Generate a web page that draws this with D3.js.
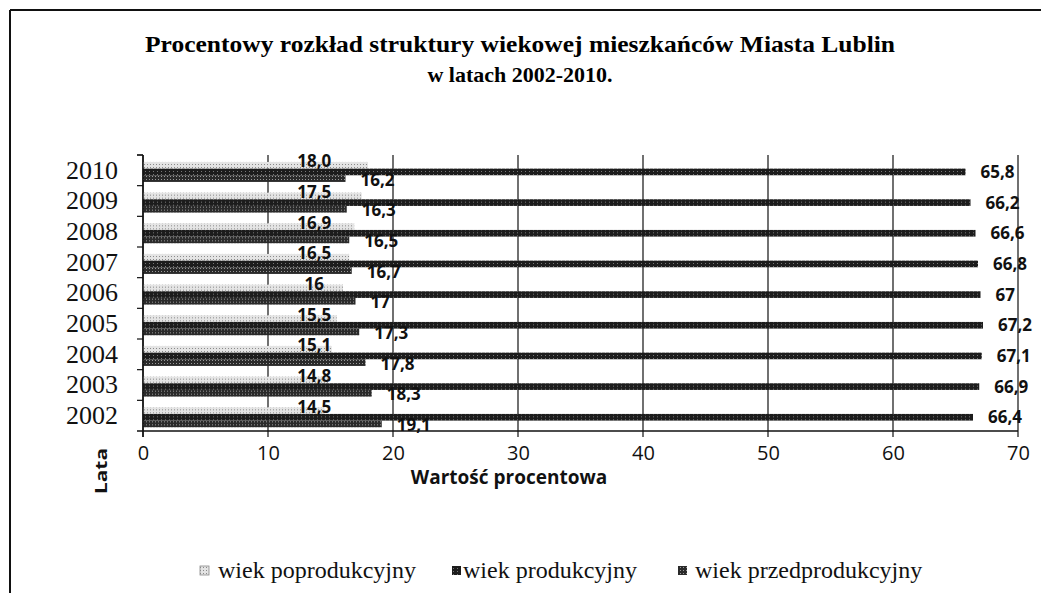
<!DOCTYPE html>
<html>
<head>
<meta charset="utf-8">
<script src="https://cdn.jsdelivr.net/npm/d3@7"></script>
<style>
  body { margin: 0; background: #fff; }
  svg { display: block; }
</style>
</head>
<body>
<svg id="chart"></svg>
<script>
// Data
const years = ["2002", "2003", "2004", "2005", "2006", "2007", "2008", "2009", "2010"];
const seriesNames = ["wiek poprodukcyjny", "wiek produkcyjny", "wiek przedprodukcyjny"];
const poprodukcyjny = [14.5, 14.8, 15.1, 15.5, 16, 16.5, 16.9, 17.5, 18.0];
const produkcyjny = [66.4, 66.9, 67.1, 67.2, 67, 66.8, 66.6, 66.2, 65.8];
const przedprodukcyjny = [19.1, 18.3, 17.8, 17.3, 17, 16.7, 16.5, 16.3, 16.2];
const poprodLabels = ["14,5", "14,8", "15,1", "15,5", "16", "16,5", "16,9", "17,5", "18,0"];
const prodLabels = ["66,4", "66,9", "67,1", "67,2", "67", "66,8", "66,6", "66,2", "65,8"];
const przedLabels = ["19,1", "18,3", "17,8", "17,3", "17", "16,7", "16,5", "16,3", "16,2"];
const xTicks = [0, 10, 20, 30, 40, 50, 60, 70];

const width = 1041;
const height = 593;
const margin = { top: 155, right: 23, bottom: 162, left: 143 };

const svg = d3.select("#chart")
    .attr("width", width)
    .attr("height", height);

// patterns for the bar fills
const defs = svg.append("defs");
const pLight = defs.append("pattern")
    .attr("id", "light").attr("patternUnits", "userSpaceOnUse")
    .attr("width", 3).attr("height", 3);
pLight.append("rect").attr("width", 3).attr("height", 3).attr("fill", "#e4e4e4");
pLight.append("rect").attr("width", 1).attr("height", 1).attr("fill", "#8a8a8a");

const pDark = defs.append("pattern")
    .attr("id", "dark").attr("patternUnits", "userSpaceOnUse")
    .attr("width", 4).attr("height", 3);
pDark.append("rect").attr("width", 4).attr("height", 3).attr("fill", "#1c1c1c");
pDark.append("rect").attr("x", 1).attr("y", 1).attr("width", 1).attr("height", 1).attr("fill", "#777");

const pHatch = defs.append("pattern")
    .attr("id", "hatch").attr("patternUnits", "userSpaceOnUse")
    .attr("width", 3).attr("height", 3);
pHatch.append("rect").attr("width", 3).attr("height", 3).attr("fill", "#2a2a2a");
pHatch.append("rect").attr("x", 2).attr("y", 0).attr("width", 1).attr("height", 1).attr("fill", "#999");

const fills = ["url(#light)", "url(#dark)", "url(#hatch)"];

// outer frame of the scan
svg.append("line").attr("x1", 10).attr("x2", width).attr("y1", 10).attr("y2", 10)
    .attr("stroke", "#111").attr("stroke-width", 2);
svg.append("line").attr("x1", 10).attr("x2", 10).attr("y1", 10).attr("y2", height)
    .attr("stroke", "#111").attr("stroke-width", 2);

// title
const title = svg.append("text")
    .attr("text-anchor", "middle")
    .style("font-family", "'Liberation Serif', 'DejaVu Serif', serif")
    .style("font-weight", "bold");
title.append("tspan").attr("x", 520).attr("y", 52)
    .attr("textLength", 750)
    .attr("lengthAdjust", "spacingAndGlyphs")
    .style("font-size", "24px")
    .text("Procentowy rozkład struktury wiekowej mieszkańców Miasta Lublin");
title.append("tspan").attr("x", 520).attr("y", 82)
    .style("font-size", "22px")
    .text("w latach 2002-2010.");

// scales
const x = d3.scaleLinear()
    .domain([0, 70])
    .range([margin.left, width - margin.right]);

const y = d3.scaleBand()
    .domain(years.slice().reverse())
    .range([margin.top, height - margin.bottom])
    .padding(0);

const sub = d3.scaleBand()
    .domain(seriesNames)
    .range([0, y.bandwidth()])
    .paddingInner(0)
    .paddingOuter(0.8)
    .align(0.65);

const plotBottom = height - margin.bottom;

// vertical grid lines with ticks below axis
svg.append("g")
    .selectAll("line")
    .data(xTicks)
    .join("line")
    .attr("x1", d => x(d)).attr("x2", d => x(d))
    .attr("y1", margin.top).attr("y2", plotBottom + 6)
    .attr("stroke", "#111")
    .attr("stroke-width", 1.2);

// bottom axis line
svg.append("line")
    .attr("x1", margin.left - 6).attr("x2", x(70))
    .attr("y1", plotBottom).attr("y2", plotBottom)
    .attr("stroke", "#111").attr("stroke-width", 1.5);

// y tick marks at band boundaries
const boundaries = years.map(d => y(d)).concat([margin.top]);
svg.append("g")
    .selectAll("line")
    .data(boundaries)
    .join("line")
    .attr("x1", margin.left - 6).attr("x2", margin.left)
    .attr("y1", d => d).attr("y2", d => d)
    .attr("stroke", "#111").attr("stroke-width", 1.2);

// table of bars
const table = years.map((yr, i) => ({
    year: yr,
    values: [
        { key: seriesNames[0], value: poprodukcyjny[i], label: poprodLabels[i], idx: 0 },
        { key: seriesNames[1], value: produkcyjny[i], label: prodLabels[i], idx: 1 },
        { key: seriesNames[2], value: przedprodukcyjny[i], label: przedLabels[i], idx: 2 }
    ]
}));

const groups = svg.append("g")
    .selectAll("g")
    .data(table)
    .join("g")
    .attr("transform", d => `translate(0,${y(d.year)})`);

groups.selectAll("rect")
    .data(d => d.values)
    .join("rect")
    .attr("x", x(0))
    .attr("y", d => sub(d.key))
    .attr("width", d => x(d.value) - x(0))
    .attr("height", sub.bandwidth())
    .attr("fill", d => fills[d.idx]);

// data labels
const labelFont = "'Open Sans', 'DejaVu Sans', sans-serif";
groups.selectAll("text")
    .data(d => d.values)
    .join("text")
    .attr("x", d => d.idx === 0 ? x(13.7) : x(d.value) + 15)
    .attr("y", d => sub(d.key) + sub.bandwidth() / 2 + (d.idx === 0 ? -4 : d.idx === 2 ? 1 : 0))
    .attr("dy", "0.35em")
    .attr("text-anchor", d => d.idx === 0 ? "middle" : "start")
    .style("font-family", labelFont)
    .style("font-weight", "bold")
    .style("font-size", "17px")
    .style("fill", "#111")
    .text(d => d.label);

// y axis line
svg.append("line")
    .attr("x1", margin.left).attr("x2", margin.left)
    .attr("y1", margin.top).attr("y2", plotBottom + 6)
    .attr("stroke", "#111").attr("stroke-width", 1.5);

// y axis labels
svg.append("g")
    .attr("transform", `translate(${margin.left - 25},0)`)
    .call(d3.axisLeft(y).tickSize(0).tickPadding(0))
    .call(g => g.select(".domain").remove())
    .selectAll("text")
    .style("font-family", "'Liberation Serif', 'DejaVu Serif', serif")
    .style("font-size", "26px")
    .style("fill", "#111");

// x axis labels
svg.append("g")
    .attr("transform", `translate(0,${plotBottom})`)
    .call(d3.axisBottom(x).tickValues(xTicks).tickSize(0).tickPadding(15).tickFormat(d3.format("d")))
    .call(g => g.select(".domain").remove())
    .selectAll("text")
    .style("font-family", labelFont)
    .style("font-size", "20px")
    .style("fill", "#111");

// axis titles
svg.append("text")
    .attr("x", 509)
    .attr("y", 484)
    .attr("text-anchor", "middle")
    .style("font-family", labelFont)
    .style("font-weight", "bold")
    .style("font-size", "19px")
    .style("fill", "#111")
    .text("Wartość procentowa");

svg.append("text")
    .attr("transform", "translate(107,471) rotate(-90)")
    .attr("text-anchor", "middle")
    .attr("textLength", 46)
    .attr("lengthAdjust", "spacingAndGlyphs")
    .style("font-family", labelFont)
    .style("font-weight", "bold")
    .style("font-size", "16px")
    .style("fill", "#111")
    .text("Lata");

// legend
const legendX = [200, 452, 678];
const legendTextGap = [18, 11, 17];
const legend = svg.append("g")
    .selectAll("g")
    .data(seriesNames)
    .join("g")
    .attr("transform", (d, i) => `translate(${legendX[i]},570)`);

legend.append("rect")
    .attr("x", 0).attr("y", -4)
    .attr("width", 9).attr("height", 9)
    .attr("fill", (d, i) => fills[i])
    .attr("stroke", (d, i) => i === 0 ? "#888" : "none")
    .attr("stroke-width", 0.8);

legend.append("text")
    .attr("x", (d, i) => legendTextGap[i])
    .attr("dy", "0.32em")
    .style("font-family", "'Liberation Serif', 'DejaVu Serif', serif")
    .style("font-size", "24px")
    .style("fill", "#111")
    .text(d => d);
</script>
</body>
</html>
